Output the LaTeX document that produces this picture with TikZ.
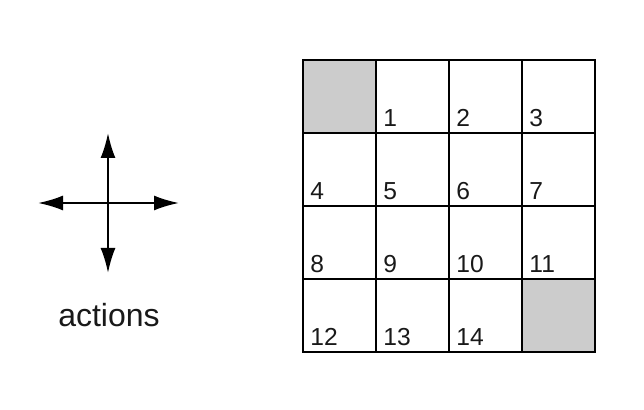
\documentclass[tikz,border=0pt]{standalone}
\usepackage{fontspec}
\setmainfont{Liberation Sans}
\usetikzlibrary{arrows.meta}

\begin{document}
\begin{tikzpicture}[x=0.5pt, y=-0.5pt, %pixel units, y down
  cell/.style={draw, line width=1pt, minimum size=36.5pt, inner sep=0pt, outer sep=0pt},
  goal/.style={cell, fill=black!20},
  num/.style={anchor=base west, inner sep=0pt, text=black!90, font=\fontsize{12.3}{12}\selectfont},
  act/.style={line width=1pt, -{Latex[length=12.5pt,width=7.5pt]}}]
  \useasboundingbox (0,0) rectangle (644,410);

  % Action cross
  \coordinate (ctr) at (108,203);
  \coordinate (up) at (108,133);
  \coordinate (down) at (108,273);
  \coordinate (left) at (38,203);
  \coordinate (right) at (179,203);
  \draw[act] (ctr) -- (up);
  \draw[act] (ctr) -- (down);
  \draw[act] (ctr) -- (left);
  \draw[act] (ctr) -- (right);
  \node[anchor=base, inner sep=0pt, text=black!90, font=\fontsize{16}{16}\selectfont] (actions) at (109,327) {actions};

  % Grid world
  \foreach \r in {0,...,3}
    \foreach \c in {0,...,3}
      \node[cell] (s\r\c) at ({339.5+73*\c},{96.5+73*\r}) {};

  % Terminal states
  \node[goal] (t0) at (s00) {};
  \node[goal] (t1) at (s33) {};

  % State numbers
  \foreach \n [evaluate=\n as \r using {int(\n/4)}, evaluate=\n as \c using {int(mod(\n,4))}] in {1,...,14}
    \node[num] (n\n) at ([shift={(7,-6)}]s\r\c.south west) {\n};

\end{tikzpicture}
\end{document}
